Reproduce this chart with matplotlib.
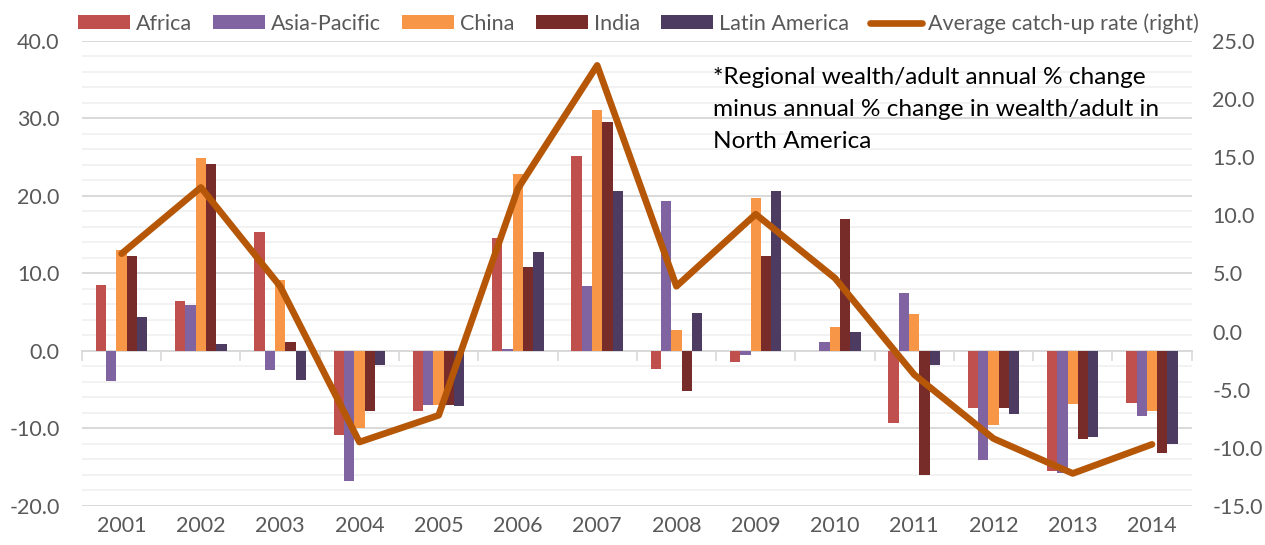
import numpy as np
import matplotlib.pyplot as plt
from matplotlib.ticker import MultipleLocator, FixedLocator, NullFormatter

plt.rcParams['font.family'] = ['Lato', 'DejaVu Sans']

years = ['2001', '2002', '2003', '2004', '2005', '2006', '2007',
         '2008', '2009', '2010', '2011', '2012', '2013', '2014']

africa = [8.5, 6.5, 15.3, -10.8, -7.7, 14.6, 25.1, -2.3, -1.4, 0.0, -9.3, -7.4, -15.5, -6.7]
asia_pacific = [-3.9, 5.9, -2.4, -16.8, -7.0, 0.2, 8.4, 19.3, -0.5, 1.2, 7.5, -14.1, -15.8, -8.4]
china = [13.0, 24.9, 9.1, -10.0, -7.0, 22.9, 31.1, 2.75, 19.7, 3.1, 4.8, -9.5, -6.8, -7.8]
india = [12.3, 24.1, 1.1, -7.7, -7.0, 10.8, 29.5, -5.1, 12.3, 17.0, -16.0, -7.3, -11.4, -13.2]
latin_america = [4.4, 0.95, -3.8, -1.8, -7.1, 12.8, 20.6, 4.9, 20.6, 2.4, -1.8, -8.1, -11.1, -12.0]
catch_up = [6.7, 12.4, 3.9, -9.5, -7.2, 12.3, 22.9, 3.9, 10.1, 4.6, -3.7, -9.2, -12.2, -9.7]

series = [
    ('Africa', africa, '#C0504D'),
    ('Asia-Pacific', asia_pacific, '#8064A2'),
    ('China', china, '#F79646'),
    ('India', india, '#772C2A'),
    ('Latin America', latin_america, '#4D3B62'),
]

grey = '#595959'
fs = 15.5
x = np.arange(len(years))
w = 0.13

fig = plt.figure(figsize=(12.65, 5.45), dpi=100)
ax = fig.add_axes([0.0648, 0.0716, 0.8772, 0.8532])

# gridlines
ax.set_ylim(-20, 40)
ax.yaxis.set_major_locator(MultipleLocator(10))
ax.yaxis.set_minor_locator(MultipleLocator(2))
ax.grid(axis='y', which='major', color='#D9D9D9', lw=1.4, zorder=0)
ax.grid(axis='y', which='minor', color='#F2F2F2', lw=1.4, zorder=0)
ax.set_axisbelow(True)

for i, (name, vals, col) in enumerate(series):
    ax.bar(x + (i - 2) * w, vals, width=w, color=col, label=name, zorder=2)

ax.set_xlim(-0.5, len(years) - 0.5)
ax.set_xticks(x)
ax.set_xticklabels(years)
ax.tick_params(axis='x', length=0, pad=7, labelsize=fs, labelcolor=grey)
ax.tick_params(axis='y', which='both', length=0, pad=16, labelsize=fs, labelcolor=grey)
ax.yaxis.set_major_formatter(lambda v, p: f'{v:.1f}')
for s in ax.spines.values():
    s.set_visible(False)

# category axis line at zero with boundary ticks
zax = ax.secondary_xaxis(20 / 60)
zax.xaxis.set_major_locator(FixedLocator(np.arange(len(years) + 1) - 0.5))
zax.xaxis.set_major_formatter(NullFormatter())
zax.tick_params(direction='out', length=7, width=1.2, color='#D9D9D9')
zax.spines['bottom'].set_color('#D9D9D9')
zax.spines['bottom'].set_linewidth(1.4)

# right axis line
ax2 = ax.twinx()
ax2.set_ylim(-15, 25)
ax2.yaxis.set_major_locator(MultipleLocator(5))
ax2.yaxis.set_major_formatter(lambda v, p: f'{v:.1f}')
ax2.tick_params(axis='y', length=0, pad=15, labelsize=fs, labelcolor=grey)
for s in ax2.spines.values():
    s.set_visible(False)
ax2.plot(x, catch_up, color='#B65708', lw=4.8, solid_capstyle='round',
         solid_joinstyle='round', label='Average catch-up rate (right)', zorder=3)

ax2.text(0.569, 0.943, '*Regional wealth/adult annual % change\nminus annual % change in wealth/adult in\nNorth America',
         transform=ax.transAxes, ha='left', va='top', fontsize=17.6, color='black',
         linespacing=1.62)

h1, l1 = ax.get_legend_handles_labels()
h2, l2 = ax2.get_legend_handles_labels()
fig.legend(h1 + h2, l1 + l2, loc='center', bbox_to_anchor=(0.5047, 0.957), ncol=6,
           frameon=False, fontsize=fs, labelcolor=grey, handlelength=2.42,
           handleheight=0.6, handletextpad=0.28, columnspacing=0.98)

fig.savefig('out.png', dpi=100)
